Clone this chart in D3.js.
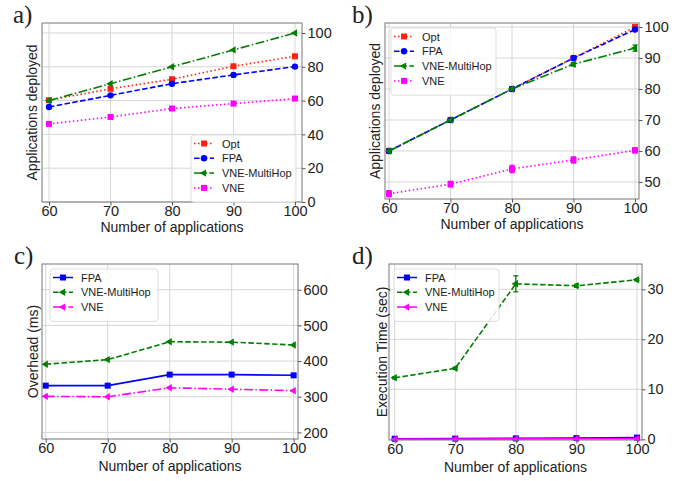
<!DOCTYPE html>
<html>
<head>
<meta charset="utf-8">
<script src="https://cdnjs.cloudflare.com/ajax/libs/d3/7.8.5/d3.min.js"></script>
<style>
  body { margin: 0; background: #fff; }
  text { font-family: "Liberation Sans", Arial, sans-serif; fill: #222; }
</style>
</head>
<body>
<div id="chart"></div>
<script>
// data
const apps = [60, 70, 80, 90, 100];
const xTicks = [60, 70, 80, 90, 100];

// a) applications deployed
const aOpt = [60.2, 67, 72.6, 80.3, 86.2];
const aFPA = [56.2, 63.1, 70, 75.2, 80.1];
const aMulti = [60, 70, 80, 90, 100];
const aVNE = [46.2, 50.3, 55.3, 58.2, 61.2];
const aYTicks = [0, 20, 40, 60, 80, 100];

// b) applications deployed
const bOpt = [60, 70, 80, 90, 100];
const bFPA = [60, 70, 80, 90, 99.2];
const bMulti = [60, 70, 80, 88, 93.2];
const bMultiErr = [0, 0, 0, 0.6, 1];
const bVNE = [46.2, 49.3, 54.2, 57.1, 60.2];
const bVNEErr = [1, 0.9, 1.2, 1, 0.8];
const bYTicks = [50, 60, 70, 80, 90, 100];

// c) overhead (ms)
const cFPA = [331, 331, 362, 362, 360];
const cMulti = [391, 404, 454, 453, 445];
const cVNE = [301, 300, 325, 321, 317];
const cYTicks = [200, 300, 400, 500, 600];

// d) execution time (sec)
const dFPA = [0.12, 0.15, 0.2, 0.25, 0.35];
const dMulti = [12.3, 14.2, 31.1, 30.7, 31.9];
const dMultiErr = [0.2, 0.2, 1.6, 0.3, 0.2];
const dVNE = [0.05, 0.08, 0.1, 0.12, 0.15];
const dYTicks = [0, 10, 20, 30];

const width = 692, height = 481;

// line styles
const DASH = '5.5,2.4', DOT = '1.5,2.5', DASHDOT = '9,2.4,1.5,2.4';

const svg = d3.select('#chart')
  .append('svg')
  .attr('width', width)
  .attr('height', height);

function marker(g, type, x, y, color) {
  if (type === 's') {
    g.append('rect').attr('x', x - 3).attr('y', y - 3)
      .attr('width', 6).attr('height', 6).attr('fill', color);
  } else if (type === 'o') {
    g.append('circle').attr('cx', x).attr('cy', y).attr('r', 3.2).attr('fill', color);
  } else {
    g.append('path')
      .attr('d', d3.symbol().type(d3.symbolTriangle).size(24)())
      .attr('transform', `translate(${x},${y}) rotate(-90)`)
      .attr('fill', color);
  }
}

function drawPanel(p) {
  const x = d3.scaleLinear().domain(p.xDomain).range([p.left, p.right]);
  const y = d3.scaleLinear().domain(p.yDomain).range([p.bottom, p.top]);
  const g = svg.append('g');

  // grid
  g.selectAll('.gx').data(xTicks).enter().append('line')
    .attr('x1', d => x(d)).attr('x2', d => x(d))
    .attr('y1', p.top).attr('y2', p.bottom)
    .attr('stroke', '#d6d6d6').attr('stroke-width', 1);
  g.selectAll('.gy').data(p.yTicks).enter().append('line')
    .attr('x1', p.left).attr('x2', p.right)
    .attr('y1', d => y(d)).attr('y2', d => y(d))
    .attr('stroke', '#d6d6d6').attr('stroke-width', 1);

  // series
  p.series.forEach(s => {
    const line = d3.line().x((d, i) => x(apps[i])).y(d => y(d));
    g.append('path').datum(s.values)
      .attr('d', line)
      .attr('fill', 'none')
      .attr('stroke', s.color)
      .attr('stroke-width', 1.6)
      .attr('stroke-dasharray', s.dash);
    if (s.err) {
      s.err.forEach((e, i) => {
        if (!e) return;
        const cx = x(apps[i]);
        g.append('line').attr('x1', cx).attr('x2', cx)
          .attr('y1', y(s.values[i] - e)).attr('y2', y(s.values[i] + e))
          .attr('stroke', s.color).attr('stroke-width', 1.3);
        [s.values[i] - e, s.values[i] + e].forEach(v => {
          g.append('line').attr('x1', cx - 2.5).attr('x2', cx + 2.5)
            .attr('y1', y(v)).attr('y2', y(v))
            .attr('stroke', s.color).attr('stroke-width', 1.3);
        });
      });
    }
    s.values.forEach((v, i) => marker(g, s.marker, x(apps[i]), y(v), s.color));
  });

  // frame
  g.append('rect')
    .attr('x', p.left).attr('y', p.top)
    .attr('width', p.right - p.left).attr('height', p.bottom - p.top)
    .attr('fill', 'none').attr('stroke', '#777').attr('stroke-width', 1);

  // axes (bottom and right)
  const xAxis = d3.axisBottom(x).tickValues(xTicks).tickSize(3.5).tickPadding(0);
  const yAxis = d3.axisRight(y).tickValues(p.yTicks).tickSize(3.5).tickPadding(2);
  const gx = g.append('g').attr('transform', `translate(0,${p.bottom})`).call(xAxis);
  const gy = g.append('g').attr('transform', `translate(${p.right},0)`).call(yAxis);
  [gx, gy].forEach(a => {
    a.select('.domain').remove();
    a.selectAll('.tick line').attr('stroke', '#555');
    a.selectAll('.tick text')
      .style('font-family', '"Liberation Sans", Arial, sans-serif')
      .style('font-size', '14.5px').attr('fill', '#222');
  });

  // axis labels
  g.append('text')
    .attr('x', (p.left + p.right) / 2).attr('y', p.xLabelY)
    .attr('text-anchor', 'middle').style('font-size', '14px')
    .text('Number of applications');
  g.append('text')
    .attr('transform', `translate(${p.yLabelX},${(p.top + p.bottom) / 2}) rotate(-90)`)
    .attr('text-anchor', 'middle').style('font-size', '14px')
    .text(p.yLabel);

  // panel letter
  g.append('text')
    .attr('x', p.tagX).attr('y', p.tagY)
    .style('font-family', '"Liberation Serif", "Times New Roman", serif')
    .style('font-size', '25px').attr('fill', '#111')
    .text(p.tag);

  // legend
  const lg = g.append('g').attr('transform', `translate(${p.legend[0]},${p.legend[1]})`);
  const rowH = 14.8;
  lg.append('rect')
    .attr('width', p.legendW).attr('height', p.series.length * rowH + 8)
    .attr('rx', 3).attr('fill', 'white').attr('fill-opacity', 0.85)
    .attr('stroke', '#ddd');
  p.series.forEach((s, i) => {
    const cy = 8.5 + i * rowH;
    lg.append('line').attr('x1', 3).attr('x2', 23).attr('y1', cy).attr('y2', cy)
      .attr('stroke', s.color).attr('stroke-width', 1.5).attr('stroke-dasharray', s.dash);
    marker(lg, s.marker, 13, cy, s.color);
    lg.append('text').attr('x', 31).attr('y', cy + 4)
      .style('font-size', '11px').text(s.name);
  });
}

drawPanel({
  tag: 'a)', tagX: 13, tagY: 23,
  left: 42, right: 302, top: 23, bottom: 202,
  xDomain: [58.86, 101.14], yDomain: [0, 105.9], yTicks: aYTicks,
  xLabelY: 232, yLabelX: 37, yLabel: 'Applications deployed',
  legend: [191, 135], legendW: 105,
  series: [
    { name: 'Opt', values: aOpt, color: '#ff2010', dash: DOT, marker: 's' },
    { name: 'FPA', values: aFPA, color: '#0000ff', dash: DASH, marker: 'o' },
    { name: 'VNE-MultiHop', values: aMulti, color: '#008000', dash: DASHDOT, marker: '<' },
    { name: 'VNE', values: aVNE, color: '#ff00ff', dash: DOT, marker: 's' }
  ]
});

drawPanel({
  tag: 'b)', tagX: 352, tagY: 23,
  left: 385, right: 639, top: 23, bottom: 199,
  xDomain: [59.35, 100.65], yDomain: [44.5, 101.3], yTicks: bYTicks,
  xLabelY: 229, yLabelX: 380, yLabel: 'Applications deployed',
  legend: [391, 28], legendW: 105,
  series: [
    { name: 'Opt', values: bOpt, color: '#ff2010', dash: DOT, marker: 's' },
    { name: 'FPA', values: bFPA, color: '#0000ff', dash: DASH, marker: 'o' },
    { name: 'VNE-MultiHop', values: bMulti, err: bMultiErr, color: '#008000', dash: DASHDOT, marker: '<' },
    { name: 'VNE', values: bVNE, err: bVNEErr, color: '#ff00ff', dash: DOT, marker: 's' }
  ]
});

drawPanel({
  tag: 'c)', tagX: 14, tagY: 264,
  left: 42, right: 298, top: 264, bottom: 439,
  xDomain: [59.4, 100.7], yDomain: [181.5, 672], yTicks: cYTicks,
  xLabelY: 471, yLabelX: 38, yLabel: 'Overhead (ms)',
  legend: [50, 269], legendW: 108,
  series: [
    { name: 'FPA', values: cFPA, color: '#0000ff', dash: null, marker: 's' },
    { name: 'VNE-MultiHop', values: cMulti, color: '#008000', dash: DASH, marker: '<' },
    { name: 'VNE', values: cVNE, color: '#ff00ff', dash: DASHDOT, marker: '<' }
  ]
});

drawPanel({
  tag: 'd)', tagX: 352, tagY: 264,
  left: 389, right: 642, top: 264, bottom: 440,
  xDomain: [59.06, 100.83], yDomain: [-0.13, 35.06], yTicks: dYTicks,
  xLabelY: 472, yLabelX: 387, yLabel: 'Execution Time (sec)',
  legend: [394, 269], legendW: 105,
  series: [
    { name: 'FPA', values: dFPA, color: '#0000ff', dash: null, marker: 's' },
    { name: 'VNE-MultiHop', values: dMulti, err: dMultiErr, color: '#008000', dash: DASH, marker: '<' },
    { name: 'VNE', values: dVNE, color: '#ff00ff', dash: null, marker: '<' }
  ]
});
</script>
</body>
</html>
